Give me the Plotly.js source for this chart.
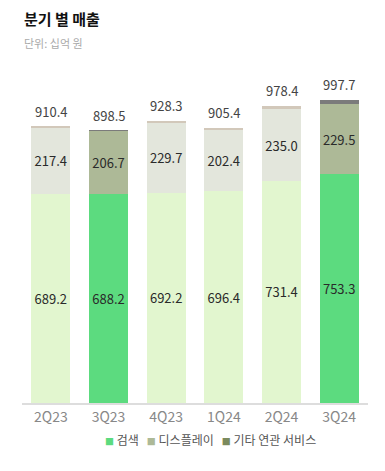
<!DOCTYPE html>
<html>
<head>
<meta charset="utf-8">
<script src="https://cdn.plot.ly/plotly-3.0.1.min.js"></script>
<style>
html,body{margin:0;padding:0;background:#fff;}
#chart{width:385px;height:471px;}
</style>
</head>
<body>
<div id="chart"></div>
<script>
const quarters = ["2Q23","3Q23","4Q23","1Q24","2Q24","3Q24"];
const search = [689.2, 688.2, 692.2, 696.4, 731.4, 753.3];
const display = [217.4, 206.7, 229.7, 202.4, 235.0, 229.5];
const totals = [910.4, 898.5, 928.3, 905.4, 978.4, 997.7];
const other = totals.map((t,i)=> +(t - search[i] - display[i]).toFixed(1));
const highlight = [false, true, false, false, false, true];
const seriesNames = ["검색","디스플레이","기타 연관 서비스"];

const col = {
  search: ["#e2f6cf", "#5cdb7f"],
  display: ["#e3e6dc", "#adb997"],
  other: ["#d2c8ba", "#7b7b7b"]
};
const legendCols = ["#5cdb7f", "#adb997", "#7b8a5e"];
const pick = k => highlight.map(h => col[k][h ? 1 : 0]);
const FONT = "Noto Sans CJK KR, Noto Sans, sans-serif";

const traces = [
  {type:"bar", x:quarters, y:search, marker:{color:pick("search")}, showlegend:false,
   text:search.map(v=>v.toFixed(1)), textposition:"inside", insidetextanchor:"middle",
   textangle:0, constraintext:"none",
   textfont:{family:FONT, size:13, color:"#2a2a2a"}, hoverinfo:"skip"},
  {type:"bar", x:quarters, y:display, marker:{color:pick("display")}, showlegend:false,
   text:display.map(v=>v.toFixed(1)), textposition:"inside", insidetextanchor:"middle",
   textangle:0, constraintext:"none",
   textfont:{family:FONT, size:13, color:"#2a2a2a"}, hoverinfo:"skip"},
  {type:"bar", x:quarters, y:other, marker:{color:pick("other")}, showlegend:false,
   textposition:"none", hoverinfo:"skip"}
];

const totalAnn = quarters.map((q,i)=>({
  xref:"x", yref:"y", x:q, y:totals[i], yshift:15, yanchor:"middle",
  text:totals[i].toFixed(1), showarrow:false,
  font:{family:FONT, size:13, color:"#444"}
}));

const legendText = seriesNames.map((n,i)=>
  `<span style="color:${legendCols[i]};font-size:9px">■</span> ${n}`).join("   ");

const layout = {
  width:385, height:471,
  margin:{l:22, r:17, t:70, b:68},
  barmode:"stack", bargap:0.32,
  paper_bgcolor:"#fff", plot_bgcolor:"#fff",
  font:{family:FONT, color:"#444"},
  xaxis:{type:"category", showgrid:false, zeroline:false, showline:true,
    linecolor:"#dddddd", linewidth:2, ticks:"", tickfont:{family:FONT, size:14, color:"#888"}},
  yaxis:{range:[0,1096], visible:false, showgrid:false, zeroline:false},
  showlegend:false,
  annotations:[
    {xref:"paper", yref:"paper", x:0, y:1.156, xanchor:"left", yanchor:"middle",
     text:"<b>분기 별 매출</b>", showarrow:false, font:{family:FONT, size:15, color:"#111"}},
    {xref:"paper", yref:"paper", x:0, y:1.081, xanchor:"left", yanchor:"middle",
     text:"단위: 십억 원", showarrow:false, font:{family:FONT, size:11, color:"#aaa"}},
    {xref:"paper", yref:"paper", x:0.546, y:-0.111, xanchor:"center", yanchor:"middle",
     text:legendText, showarrow:false, font:{family:FONT, size:12, color:"#555"}}
  ].concat(totalAnn)
};
Plotly.newPlot("chart", traces, layout, {displayModeBar:false, staticPlot:true});
</script>
</body>
</html>
